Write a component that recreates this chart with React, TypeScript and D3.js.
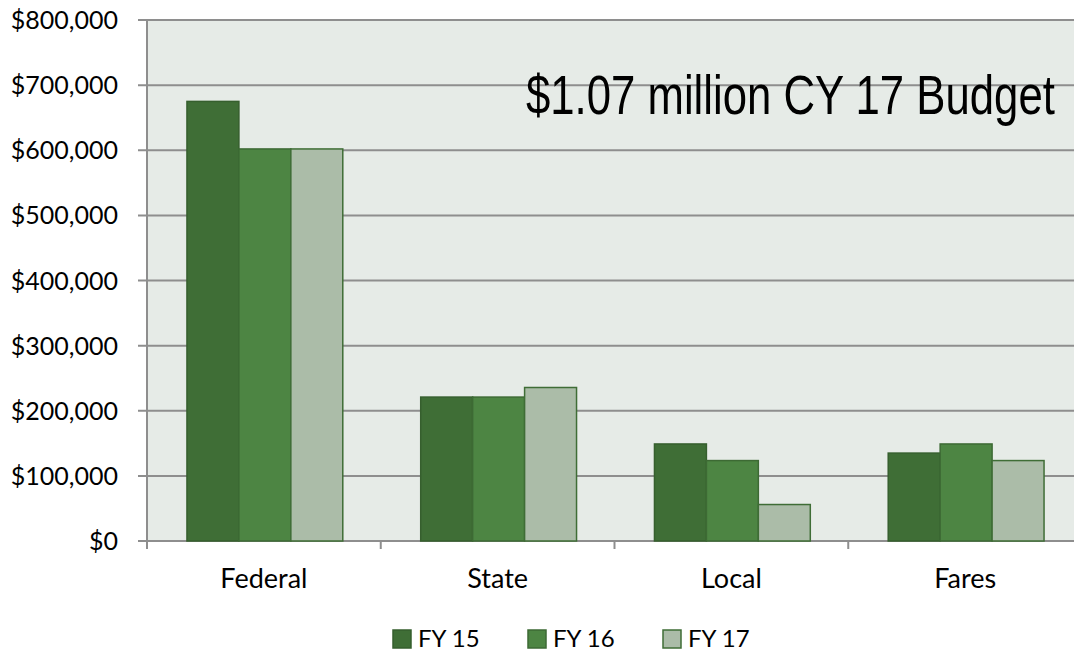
import React, { useLayoutEffect, useRef, useState } from "react";
import * as d3 from "d3";

const categories = ["Federal", "State", "Local", "Fares"];
const seriesNames = ["FY 15", "FY 16", "FY 17"];
const fy15 = [675000, 221000, 149000, 135000];
const fy16 = [602000, 221000, 123500, 149000];
const fy17 = [602000, 235700, 56000, 123500];
const yTicks = [0, 100000, 200000, 300000, 400000, 500000, 600000, 700000, 800000];
const annotation = "$1.07 million CY 17 Budget";

const fills = ["#3f6e36", "#4d8543", "#abbca8"];
const strokes = ["#365f2e", "#3d6a34", "#3f6d36"];

export default function App() {
  const W = 1074, H = 652;
  const left = 148, right = 1083, top = 20, bottom = 541;
  const x = d3.scaleBand().domain(categories).range([left, right]).paddingInner(0).paddingOuter(0);
  const y = d3.scaleLinear().domain([0, 800000]).range([bottom, top]);
  const bw = x.bandwidth();
  const barW = bw / 4.5;
  const series = [fy15, fy16, fy17];
  const fmt = (v: number) => "$" + d3.format(",")(v);
  const font = "Lato, 'Open Sans', sans-serif";

  const annRef = useRef<SVGTextElement>(null);
  const [sx, setSx] = useState(1);
  const annLeft = 526, annWidth = 529;
  useLayoutEffect(() => {
    if (annRef.current) {
      const w = annRef.current.getComputedTextLength();
      if (w > 0) setSx(annWidth / w);
    }
  }, []);

  return (
    <svg width={W} height={H} style={{ position: "absolute", left: 0, top: 0, background: "#fff" }}>
      <rect x={left} y={top} width={W - left} height={bottom - top} fill="#e6ebe7" />
      {yTicks.map((t) => (
        <g key={t}>
          <line x1={left - 10} x2={W} y1={y(t)} y2={y(t)} stroke="#8e8e8e" strokeWidth={2} />
          <text x={118} y={y(t) + 9} textAnchor="end" fontFamily={font} fontSize={25} fill="#000">
            {fmt(t)}
          </text>
        </g>
      ))}
      <line x1={left - 1} x2={left - 1} y1={top} y2={bottom} stroke="#8e8e8e" strokeWidth={2} />
      {categories.map((c) => (
        <line key={"t" + c} x1={x(c)! - 1} x2={x(c)! - 1} y1={bottom} y2={bottom + 8} stroke="#8e8e8e" strokeWidth={2} />
      ))}
      {categories.map((c, ci) =>
        series.map((s, si) => {
          const bx = x(c)! + barW * 0.75 + si * barW;
          return (
            <rect
              key={c + si}
              x={bx}
              y={y(s[ci])}
              width={barW}
              height={y(0) - y(s[ci])}
              fill={fills[si]}
              stroke={strokes[si]}
              strokeWidth={1.5}
            />
          );
        })
      )}
      {categories.map((c) => (
        <text key={"l" + c} x={x(c)! + bw / 2 - 1} y={588} textAnchor="middle" fontFamily={font} fontSize={27} fill="#000">
          {c}
        </text>
      ))}
      <g transform={`translate(${annLeft},114) scale(${sx},1)`}>
        <text
          ref={annRef}
          x={0}
          y={0}
          fontFamily="'Liberation Sans Narrow', 'Liberation Sans', Arial, sans-serif"
          fontSize={56}
          fill="#000"
        >
          {annotation}
        </text>
      </g>
      {seriesNames.map((n, i) => {
        const lx = 393 + i * 135;
        return (
          <g key={n}>
            <rect x={lx} y={630} width={18} height={18} fill={fills[i]} stroke={strokes[i]} strokeWidth={1.5} />
            <text x={lx + 25} y={647} fontFamily={font} fontSize={24} fill="#000">
              {n}
            </text>
          </g>
        );
      })}
    </svg>
  );
}
